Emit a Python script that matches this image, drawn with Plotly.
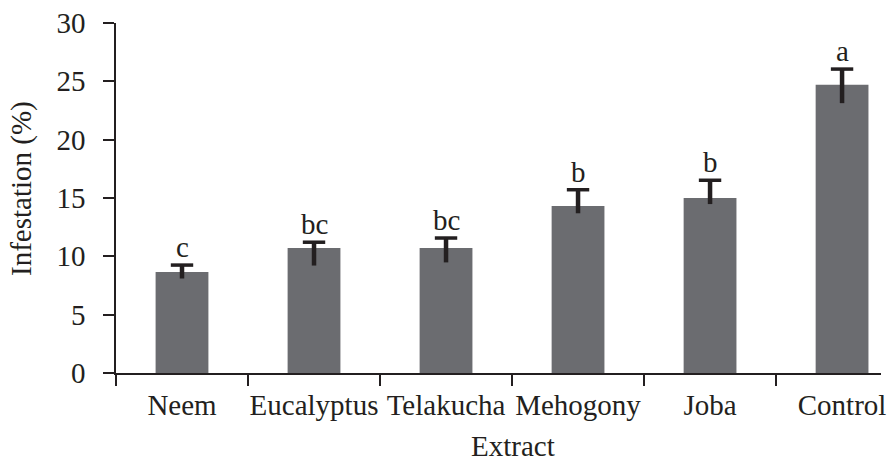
import plotly.graph_objects as go

categories = ["Neem", "Eucalyptus", "Telakucha", "Mehogony", "Joba", "Control"]
infestation = [8.65, 10.71, 10.71, 14.31, 15.0, 24.7]
err_plus = [0.6, 0.5, 0.86, 1.4, 1.52, 1.35]
err_minus = [0.55, 1.5, 1.23, 0.62, 0.52, 1.57]
letters = ["c", "bc", "bc", "b", "b", "a"]
y_ticks = [0, 5, 10, 15, 20, 25, 30]

DARK = "#231f20"
BAR = "#6b6c70"
FONT = "Liberation Serif"
FS = 29

fig = go.Figure()
fig.add_trace(go.Bar(
    x=categories, y=infestation, width=0.4,
    marker=dict(color=BAR, line=dict(width=0)),
    error_y=dict(type="data", symmetric=False, array=err_plus, arrayminus=err_minus,
                 width=0, thickness=4.5, color=DARK),
    showlegend=False,
))
tops = [v + p for v, p in zip(infestation, err_plus)]
fig.add_trace(go.Scatter(
    x=categories, y=tops, mode="markers",
    marker=dict(symbol="line-ew", size=16, line=dict(width=3.5, color=DARK), color=DARK),
    showlegend=False, cliponaxis=False,
))
for c, t, l in zip(categories, tops, letters):
    fig.add_annotation(x=c, y=t, text=l, showarrow=False, yanchor="bottom",
                       yshift=0, font=dict(family=FONT, size=FS, color=DARK))

fig.add_annotation(xref="paper", yref="paper", x=-0.1229, y=0.5286,
                   text="Infestation (%)", textangle=-90, showarrow=False,
                   xanchor="center", yanchor="middle",
                   font=dict(family=FONT, size=FS, color=DARK))
fig.add_annotation(xref="paper", yref="paper", x=0.519, y=-0.259,
                   text="Extract", showarrow=False,
                   xanchor="center", yanchor="bottom",
                   font=dict(family=FONT, size=FS, color=DARK))

fig.update_xaxes(
    type="category", range=[-0.5, 5.295], tickson="boundaries",
    showline=True, linecolor=DARK, linewidth=1.5,
    ticks="outside", ticklen=11, tickwidth=1.5, tickcolor=DARK,
    showgrid=False, zeroline=False, tickangle=0, automargin=False,
    ticklabelstandoff=5,
    tickfont=dict(family=FONT, size=FS, color=DARK),
)
fig.update_yaxes(
    range=[0, 30], tickvals=y_ticks,
    showline=True, linecolor=DARK, linewidth=1.5,
    ticks="outside", ticklen=11, tickwidth=1.5, tickcolor=DARK,
    showgrid=False, zeroline=False, ticklabelstandoff=12, automargin=False,
    tickfont=dict(family=FONT, size=FS, color=DARK),
)
fig.update_layout(
    width=890, height=464,
    margin=dict(l=116, r=9, t=23, b=91),
    plot_bgcolor="white", paper_bgcolor="white",
    bargap=0.6,
)
fig.write_html(
    "out.html",
    config={"displayModeBar": False},
    post_script="document.body.style.margin='0';document.body.style.overflow='hidden';",
)
